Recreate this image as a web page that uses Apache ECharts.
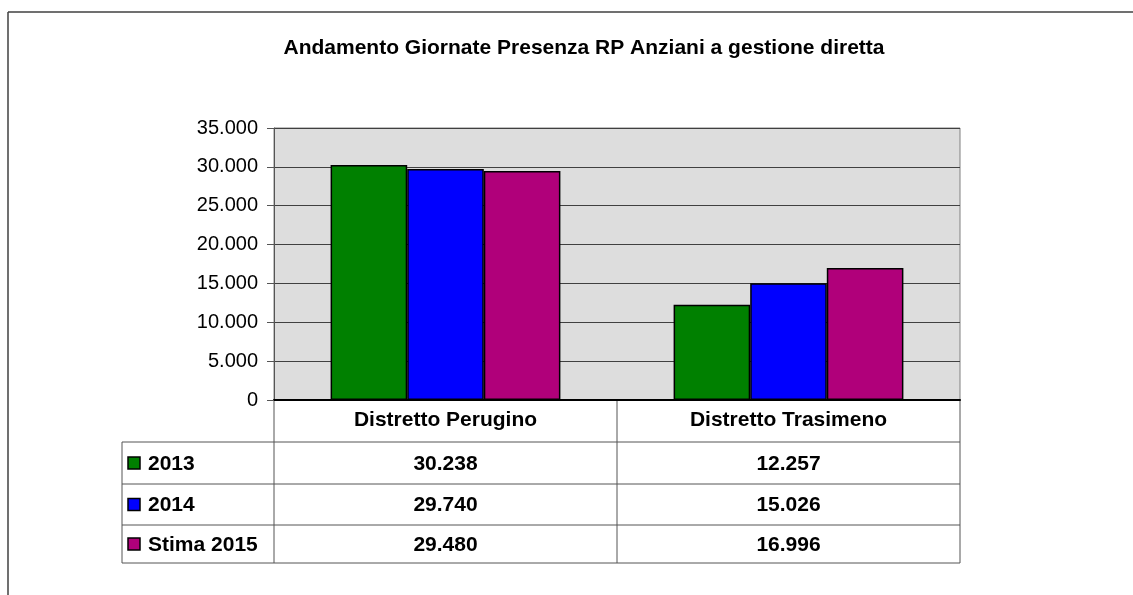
<!DOCTYPE html>
<html lang="it">
<head>
    <meta charset="UTF-8">
    <title>Andamento Giornate Presenza</title>
    <script src="https://cdn.jsdelivr.net/npm/echarts@6/dist/echarts.min.js"></script>
    <style>
html, body { margin:0; padding:0; background:#fff; }
#chart { width:1133px; height:595px; }
    </style>
</head>
<body>
<div id="chart"></div>
<script type="text/javascript">
var categories = ['Distretto Perugino', 'Distretto Trasimeno'];
var seriesNames = ['2013', '2014', 'Stima 2015'];
var values2013 = [30238, 12257];
var values2014 = [29740, 15026];
var valuesStima2015 = [29480, 16996];
var yTicks = [0, 5000, 10000, 15000, 20000, 25000, 30000, 35000];

var colors = ['#008000', '#0000FF', '#B0007A'];
var allValues = [values2013, values2014, valuesStima2015];

function fmt(v) {
    return String(v).replace(/\B(?=(\d{3})+(?!\d))/g, '.');
}

// plot area / table geometry
var plotL = 274, plotR = 960, plotT = 128, plotB = 400;
var tabL = 122, midX = 617;
var rowY = [400, 442, 484, 525, 563];
var font = '"Liberation Sans", Arial, sans-serif';

var graphics = [];
// frame (only left and top edges visible)
graphics.push({type: 'line', shape: {x1: 8, y1: 12, x2: 1133, y2: 12}, style: {stroke: '#404040', lineWidth: 1.5}});
graphics.push({type: 'line', shape: {x1: 8, y1: 12, x2: 8, y2: 595}, style: {stroke: '#404040', lineWidth: 1.5}});
// table lines
[plotL, midX, plotR].forEach(function (x) {
    graphics.push({type: 'line', shape: {x1: x, y1: plotB, x2: x, y2: rowY[4]}, style: {stroke: '#555', lineWidth: 1}});
});
graphics.push({type: 'line', shape: {x1: tabL, y1: rowY[1], x2: tabL, y2: rowY[4]}, style: {stroke: '#555', lineWidth: 1}});
for (var r = 1; r < rowY.length; r++) {
    graphics.push({type: 'line', shape: {x1: tabL, y1: rowY[r], x2: plotR, y2: rowY[r]}, style: {stroke: '#555', lineWidth: 1}});
}
// table rows: legend key + values
var colCenters = [(plotL + midX) / 2, (midX + plotR) / 2];
seriesNames.forEach(function (name, i) {
    var cy = (rowY[i + 1] + rowY[i + 2]) / 2;
    graphics.push({type: 'rect', shape: {x: 128, y: cy - 6, width: 12, height: 12},
        style: {fill: colors[i], stroke: '#000', lineWidth: 1.5}});
    graphics.push({type: 'text', x: 148, y: cy + 1, style: {text: name, font: 'bold 21px ' + font,
        fill: '#000', textVerticalAlign: 'middle', textAlign: 'left'}});
    allValues[i].forEach(function (v, j) {
        graphics.push({type: 'text', x: colCenters[j], y: cy + 1, style: {text: fmt(v), font: 'bold 21px ' + font,
            fill: '#000', textVerticalAlign: 'middle', textAlign: 'center'}});
    });
});

var myChart = echarts.init(document.getElementById('chart'));
myChart.setOption({
    animation: false,
    backgroundColor: '#fff',
    title: {
        text: 'Andamento Giornate Presenza RP Anziani a gestione diretta',
        left: 579,
        top: 33,
        textAlign: 'center',
        textStyle: {fontFamily: font, fontWeight: 'bold', fontSize: 21, color: '#000'}
    },
    grid: {
        left: plotL,
        top: plotT,
        width: plotR - plotL,
        height: plotB - plotT,
        show: true,
        backgroundColor: '#DDDDDD',
        borderColor: '#808080',
        borderWidth: 1
    },
    xAxis: {
        type: 'category',
        data: categories,
        axisLine: {lineStyle: {color: '#000', width: 2}},
        axisTick: {show: false},
        axisLabel: {margin: 10, fontFamily: font, fontWeight: 'bold', fontSize: 21, color: '#000'}
    },
    yAxis: {
        type: 'value',
        min: yTicks[0],
        max: yTicks[yTicks.length - 1],
        interval: yTicks[1] - yTicks[0],
        axisLine: {show: true, lineStyle: {color: '#555'}},
        axisTick: {show: true, length: 7, lineStyle: {color: '#555'}},
        splitLine: {lineStyle: {color: '#404040', width: 1}},
        axisLabel: {margin: 16, formatter: fmt, fontFamily: font, fontSize: 20, color: '#000'}
    },
    series: seriesNames.map(function (name, i) {
        return {
            name: name,
            type: 'bar',
            data: allValues[i],
            barGap: '0%',
            barCategoryGap: '33%',
            itemStyle: {color: colors[i], borderColor: '#000', borderWidth: 1.5}
        };
    }),
    graphic: graphics
});
</script>
</body>
</html>
